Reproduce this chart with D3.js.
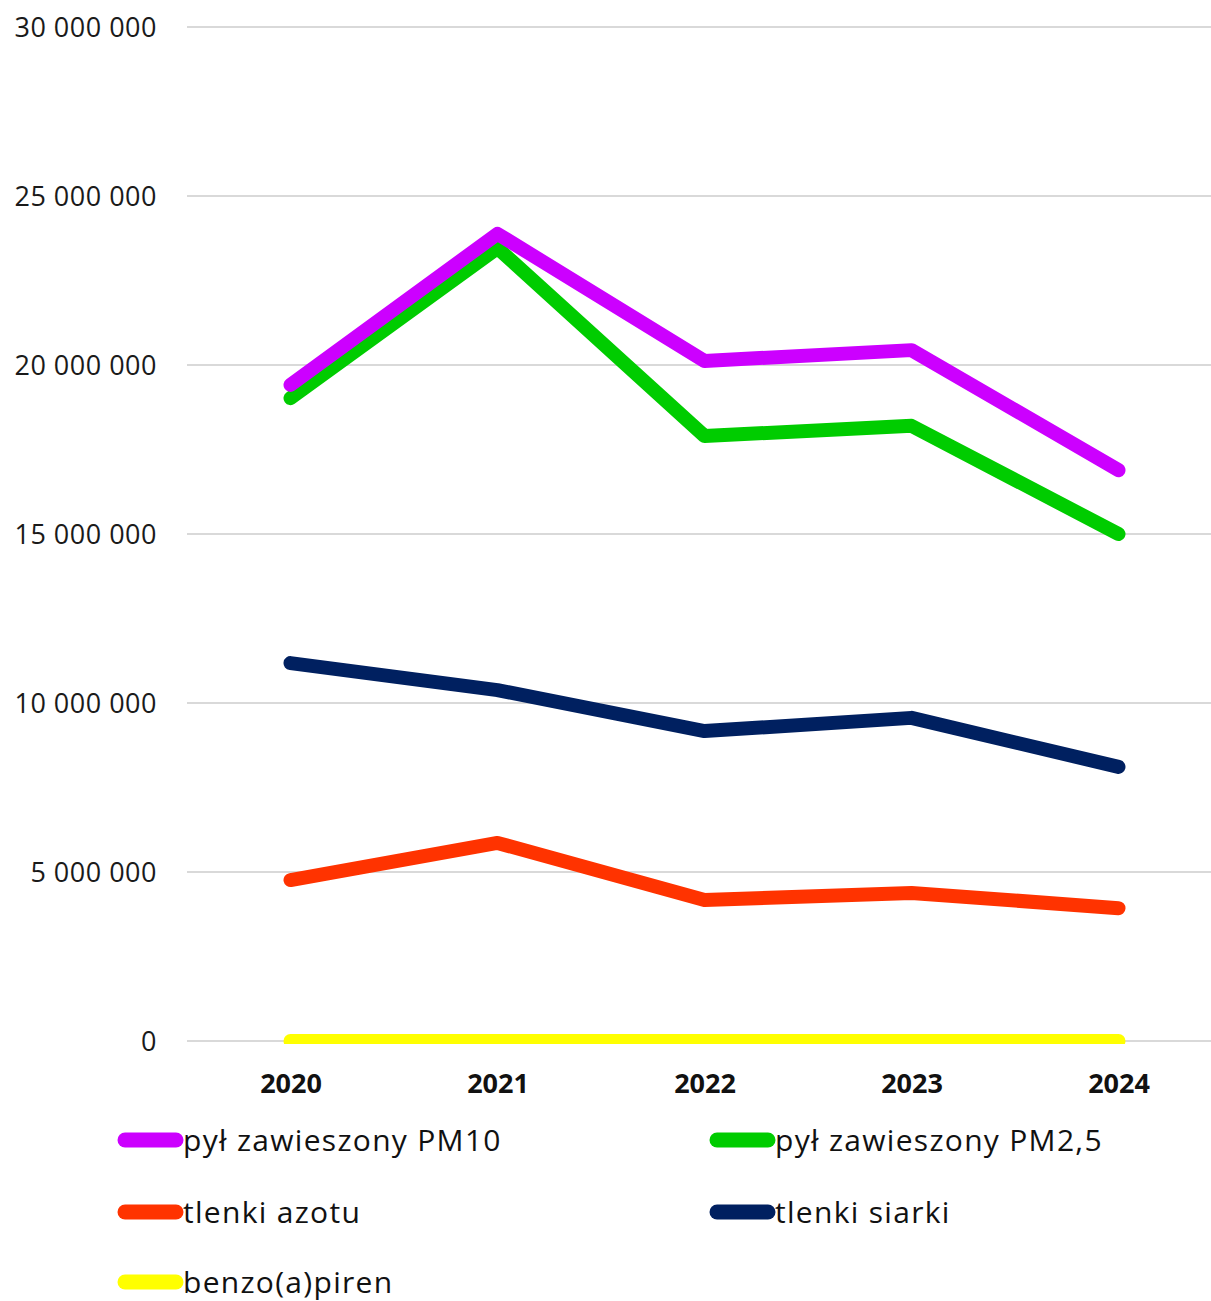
<!DOCTYPE html>
<html>
<head>
<meta charset="utf-8">
<script src="https://cdn.jsdelivr.net/npm/d3@7"></script>
<style>
  html, body { margin: 0; padding: 0; background: #fff; }
  svg { display: block; font-family: "Open Sans", Lato, sans-serif; }
</style>
</head>
<body>
<svg id="chart" width="1211" height="1301"></svg>
<script>
// Emissions by pollutant, 2020–2024
const years = ["2020", "2021", "2022", "2023", "2024"];
const seriesNames = ["pył zawieszony PM10", "pył zawieszony PM2,5", "tlenki azotu", "tlenki siarki", "benzo(a)piren"];
const pm10 = [19410000, 23880000, 20120000, 20440000, 16890000];
const pm25 = [19020000, 23460000, 17900000, 18200000, 15000000];
const nox = [4760000, 5860000, 4170000, 4380000, 3930000];
const sox = [11180000, 10380000, 9170000, 9560000, 8110000];
const bap = [30, 30, 30, 30, 30];
const colors = ["#CC00FF", "#00CC00", "#FF3300", "#002060", "#FFFF00"];
const yTicks = [0, 5000000, 10000000, 15000000, 20000000, 25000000, 30000000];

const series = [pm10, pm25, nox, sox, bap].map((values, i) => ({
  name: seriesNames[i], color: colors[i], values
}));

const svg = d3.select("#chart");
const plotLeft = 187, plotRight = 1222, plotTop = 27, plotBottom = 1041;

const x = d3.scalePoint().domain(years).range([plotLeft, plotRight]).padding(0.5);
const y = d3.scaleLinear().domain([0, 30000000]).range([plotBottom, plotTop]);

const fmt = v => d3.format(",")(v).replace(/,/g, " ");

// horizontal gridlines
svg.append("g")
  .selectAll("line").data(yTicks).join("line")
  .attr("x1", plotLeft).attr("x2", 1211)
  .attr("y1", d => y(d)).attr("y2", d => y(d))
  .attr("stroke", "#d9d9d9").attr("stroke-width", 2);

// y axis labels
const yAxis = svg.append("g").attr("transform", `translate(${plotLeft - 30},0)`)
  .call(d3.axisLeft(y).tickValues(yTicks).tickFormat(fmt).tickSize(0).tickPadding(0));
yAxis.select(".domain").remove();
yAxis.selectAll("text")
  .attr("dy", "0.36em")
  .attr("font-size", 27).attr("letter-spacing", 0.5).attr("fill", "#1a1a1a")
  .attr("font-family", "'Open Sans', Lato, sans-serif");

// x axis labels
const xAxis = svg.append("g")
  .call(d3.axisBottom(x).tickSize(0).tickPadding(0));
xAxis.select(".domain").remove();
xAxis.selectAll("text")
  .attr("y", 1093).attr("dy", 0)
  .attr("font-size", 27).attr("font-weight", "bold").attr("fill", "#111")
  .attr("font-family", "'Open Sans', Lato, sans-serif");

// clip lines to the plot area
svg.append("clipPath").attr("id", "plotClip")
  .append("rect").attr("x", 0).attr("y", 0).attr("width", 1211).attr("height", plotBottom + 3);

const line = d3.line().x((d, i) => x(years[i])).y(d => y(d));

svg.append("g").attr("clip-path", "url(#plotClip)")
  .selectAll("path").data(series.slice().reverse()).join("path")
  .attr("d", d => line(d.values))
  .attr("fill", "none")
  .attr("stroke", d => d.color)
  .attr("stroke-width", 14)
  .attr("stroke-linecap", "round")
  .attr("stroke-linejoin", "round");

// legend
const legendPos = [
  { x: 117, y: 1140 }, { x: 709, y: 1140 },
  { x: 117, y: 1212 }, { x: 709, y: 1212 },
  { x: 117, y: 1282 }
];
const lg = svg.append("g").selectAll("g").data(series).join("g")
  .attr("transform", (d, i) => `translate(${legendPos[i].x},${legendPos[i].y})`);
lg.append("line")
  .attr("x1", 8).attr("x2", 59).attr("y1", 0).attr("y2", 0)
  .attr("stroke", d => d.color).attr("stroke-width", 15).attr("stroke-linecap", "round");
lg.append("text")
  .attr("x", 66).attr("y", 0).attr("dy", "0.36em")
  .attr("font-size", 30).attr("letter-spacing", 1.3).attr("fill", "#111")
  .text(d => d.name);
</script>
</body>
</html>
